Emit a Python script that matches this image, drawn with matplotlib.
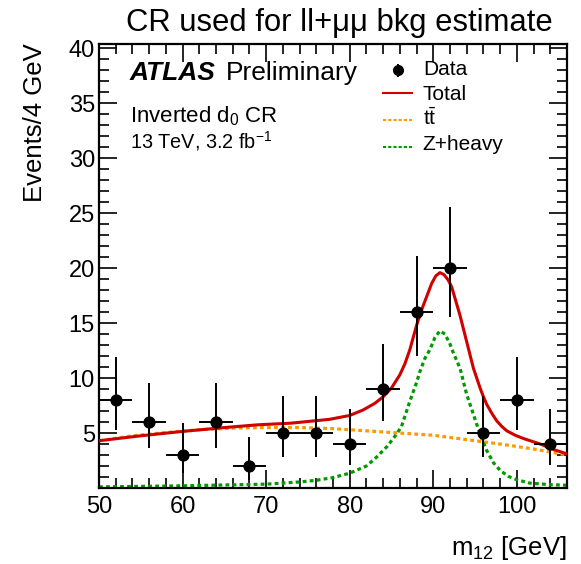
import matplotlib
matplotlib.use("Agg")
import matplotlib.pyplot as plt
from matplotlib.ticker import MultipleLocator

plt.rcParams['font.family'] = ['Liberation Sans', 'DejaVu Sans']
plt.rcParams['mathtext.fontset'] = 'custom'
plt.rcParams['mathtext.rm'] = 'Liberation Sans'
plt.rcParams['mathtext.it'] = 'Liberation Sans:italic'
plt.rcParams['mathtext.bf'] = 'Liberation Sans:bold'

# Data points (bin centres, 4 GeV bins)
data_x = [52, 56, 60, 64, 68, 72, 76, 80, 84, 88, 92, 96, 100, 104]
data_y = [8, 6, 3, 6, 2, 5, 5, 4, 9, 16, 20, 5, 8, 4]
err_lo = [2.76, 2.38, 1.63, 2.38, 1.29, 2.16, 2.16, 1.91, 2.94, 3.95, 4.44, 2.16, 2.76, 1.91]
err_hi = [3.95, 3.58, 2.92, 3.58, 2.64, 3.38, 3.38, 3.16, 4.11, 5.08, 5.55, 3.38, 3.95, 3.16]
bin_half = [2] * 14

# Total fit curve
tot_x = [50, 55, 60, 65, 69, 73, 77.6, 80, 81.6, 83, 84, 85, 86, 86.6, 87.2, 88.0, 88.6, 89.2,
         89.8, 90.3, 90.8, 91.3, 91.8, 92.2, 92.7, 93.2, 93.6, 94.0, 94.4, 94.8, 95.2, 95.6,
         96.0, 96.4, 97.0, 97.6, 98.2, 98.8, 99.8, 100.8, 102.8, 104.4, 106]
tot_y = [4.3, 4.75, 5.15, 5.5, 5.75, 5.9, 6.25, 6.6, 7.1, 7.7, 8.3, 9.1, 10.3, 11.3, 12.6, 14.8,
         16.2, 17.4, 18.6, 19.3, 19.6, 19.4, 18.9, 18.3, 17.0, 15.7, 14.5, 13.3, 12.1, 10.9,
         10.0, 9.1, 8.3, 7.6, 6.8, 6.1, 5.6, 5.2, 4.8, 4.5, 4.0, 3.5, 3.1]

# ttbar component
tt_x = [50, 54, 58, 62, 66, 70, 74, 78, 82, 86, 90, 94, 98, 102, 106]
tt_y = [4.3, 4.75, 5.05, 5.3, 5.45, 5.5, 5.5, 5.4, 5.2, 5.0, 4.8, 4.4, 4.0, 3.55, 3.0]

# Z+heavy component
zh_x = [50, 60, 70, 74, 76, 78, 80, 82, 83.2, 84.5, 85.6, 86.2, 87.2, 88.0, 88.4, 89.0, 89.6,
        90.2, 90.8, 91.4, 92.0, 92.4, 93.2, 94.0, 94.8, 95.6, 96.4, 97.2, 98.0, 99.0, 100.0,
        101.5, 104, 106]
zh_y = [0.1, 0.2, 0.35, 0.55, 0.7, 0.95, 1.35, 2.0, 2.8, 3.8, 4.9, 5.6, 7.9, 9.6, 10.6, 11.8, 12.6,
        13.7, 14.3, 14.0, 13.1, 12.3, 10.9, 8.5, 6.7, 4.9, 3.4, 2.3, 1.6, 1.05, 0.75,
        0.45, 0.3, 0.25]

legend_labels = ['Data', 'Total', r't$\bar{\mathrm{t}}$', 'Z+heavy']

fig = plt.figure(figsize=(5.81, 5.64), dpi=100)
ax = fig.add_axes([99/581, 76/564, 468/581, 444/564])

red = '#d00000'
orange = '#ff9900'
green = '#009a00'
dots = (0, (1.2, 1.0))

ax.plot(tt_x, tt_y, color=orange, lw=2.3, ls=dots, zorder=2)
ax.plot(zh_x, zh_y, color=green, lw=2.3, ls=dots, zorder=2)
ax.plot(tot_x, tot_y, color=red, lw=2.2, zorder=3)
ax.errorbar(data_x, data_y, yerr=[err_lo, err_hi], xerr=bin_half, fmt='o', color='black',
            ms=7.8, elinewidth=1.4, capsize=0, zorder=4)

ax.set_xlim(50, 106)
ax.set_ylim(0, 40.4)
ax.xaxis.set_major_locator(MultipleLocator(10))
ax.xaxis.set_minor_locator(MultipleLocator(2))
ax.yaxis.set_major_locator(MultipleLocator(5))
ax.yaxis.set_minor_locator(MultipleLocator(1))
ax.tick_params(which='both', direction='in', top=True, right=True, width=1.2, labelsize=17)
ax.tick_params(which='major', length=13)
ax.tick_params(which='minor', length=7)
ax.tick_params(axis='x', pad=6)
ax.tick_params(axis='y', pad=3)
yt = [5, 10, 15, 20, 25, 30, 35, 40]
ax.set_yticks(yt)
ax.set_yticklabels([str(v) for v in yt])
for s in ax.spines.values():
    s.set_linewidth(1.6)

# axis titles
fig.text(42/581, 1 - 43/564, 'Events/4 GeV', fontsize=18.5, rotation=90, ha='right',
         va='baseline', rotation_mode='anchor')
fig.text(567/581, 1 - 555/564, r'm$_{12}$ [GeV]', fontsize=18.5, ha='right', va='baseline')

fig.text(553/581, 1 - 31.5/564, 'CR used for ll+μμ bkg estimate', fontsize=22.3, ha='right',
         va='baseline')

ax.text(0.066, 0.919, 'ATLAS', transform=ax.transAxes, fontsize=19, fontweight='bold',
        style='italic', va='baseline')
ax.text(0.271, 0.919, 'Preliminary', transform=ax.transAxes, fontsize=19, va='baseline')
ax.text(0.066, 0.824, r'Inverted d$_{0}$ CR', transform=ax.transAxes, fontsize=16, va='baseline')
ax.text(0.066, 0.766, r'13 TeV, 3.2 fb$^{-1}$', transform=ax.transAxes, fontsize=14.3, va='baseline')

# manual legend
leg_text_y = [0.930, 0.874, 0.818, 0.761]
leg_mark_y = [0.941, 0.889, 0.829, 0.769]
x0, x1, xt = 0.607, 0.669, 0.692
ax.plot([0.639], [leg_mark_y[0]], 'o', color='black', ms=7, transform=ax.transAxes, clip_on=False)
ax.plot([0.639, 0.639], [leg_mark_y[0] - 0.012, leg_mark_y[0] + 0.012], color='black', lw=1.4,
        transform=ax.transAxes)
ax.plot([x0, x1], [leg_mark_y[1]] * 2, color=red, lw=1.5, transform=ax.transAxes)
ax.plot([x0, x1], [leg_mark_y[2]] * 2, color=orange, lw=1.5, ls=(0, (1.5, 1.0)), transform=ax.transAxes)
ax.plot([x0, x1], [leg_mark_y[3]] * 2, color=green, lw=1.5, ls=(0, (1.5, 1.0)), transform=ax.transAxes)
for lab, y in zip(legend_labels, leg_text_y):
    ax.text(xt, y, lab, transform=ax.transAxes, fontsize=15, va='baseline')

fig.savefig('out.png', dpi=100)
